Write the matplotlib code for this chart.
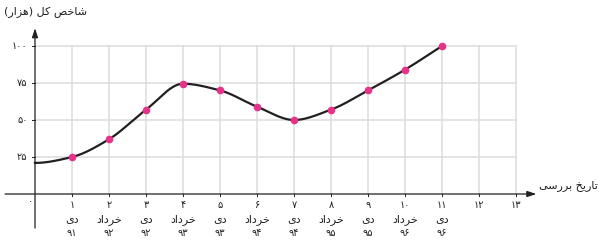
import numpy as np
import matplotlib
matplotlib.use("Agg")
import matplotlib.pyplot as plt

plt.rcParams['font.family'] = ['DejaVu Sans']

# data
periods = [1, 2, 3, 4, 5, 6, 7, 8, 9, 10, 11]
index_k = [25, 37, 57, 74.5, 70, 59, 50, 57, 70, 84, 100]
curve_start = 21  # value of the curve at x=0 (no marker)

# Persian digits and labels (Arabic presentation forms, visual order)
fa = str.maketrans("0123456789", "\u06f0\u06f1\u06f2\u06f3\u06f4\u06f5\u06f6\u06f7\u06f8\u06f9")
DEY = "\ufeef\ufea9"
KHORDAD = "\ufea9\ufe8d\ufea9\ufeae\ufea7"
months = [DEY, KHORDAD] * 5 + [DEY]
years = [91, 92, 92, 93, 93, 94, 94, 95, 95, 96, 96]
x_ticks = list(range(1, 14))
y_ticks = [25, 50, 75, 100]
y_title = "(\ufead\ufe8d\ufeb0\ufeeb) \ufede\ufedb \ufeba\ufea7\ufe8e\ufeb7"
x_title = "\ufef0\ufeb3\ufead\ufeae\ufe91 \ufea6\ufef3\ufead\ufe8e\ufe97"


def pchip(x, y, d0, xs):
    # monotone cubic hermite (Fritsch-Carlson), slope d0 at the start
    x = np.asarray(x, float)
    y = np.asarray(y, float)
    h = np.diff(x)
    delta = np.diff(y) / h
    d = np.zeros(len(x))
    for i in range(1, len(x) - 1):
        if delta[i - 1] * delta[i] > 0:
            w1 = 2 * h[i] + h[i - 1]
            w2 = h[i] + 2 * h[i - 1]
            d[i] = (w1 + w2) / (w1 / delta[i - 1] + w2 / delta[i])
    d[0] = d0
    d[-1] = delta[-1]
    k = np.clip(np.searchsorted(x, xs) - 1, 0, len(x) - 2)
    t = (xs - x[k]) / h[k]
    h00 = 2 * t ** 3 - 3 * t ** 2 + 1
    h10 = t ** 3 - 2 * t ** 2 + t
    h01 = -2 * t ** 3 + 3 * t ** 2
    h11 = t ** 3 - t ** 2
    return h00 * y[k] + h10 * h[k] * d[k] + h01 * y[k + 1] + h11 * h[k] * d[k + 1]


fig = plt.figure(figsize=(6.02, 2.41), dpi=100)
ax = fig.add_axes([0, 0, 1, 1])
# pixel mapping: x=0 at 35px, 37px per unit; y=0 at 194px, 1.48px per unit
ax.set_xlim(-35 / 37, 567 / 37)
ax.set_ylim(-47 / 1.48, 194 / 1.48)
ax.axis('off')

grid_c = '#dcdcdc'
for xt in x_ticks:
    ax.plot([xt, xt], [0, 100], color=grid_c, lw=1.1, zorder=1)
for yt in y_ticks:
    ax.plot([0, 13], [yt, yt], color=grid_c, lw=1.1, zorder=1)

# axes with arrows
ax.annotate('', xy=(13.55, 0), xytext=(-0.81, 0),
            arrowprops=dict(arrowstyle='-|>,head_length=0.6,head_width=0.2', color='#231f20', lw=0.9,
                            mutation_scale=9, shrinkA=0, shrinkB=0), zorder=3)
ax.annotate('', xy=(0, 112), xytext=(0, -23),
            arrowprops=dict(arrowstyle='-|>,head_length=0.6,head_width=0.2', color='#231f20', lw=0.9,
                            mutation_scale=9, shrinkA=0, shrinkB=0), zorder=3)
for xt in x_ticks:
    ax.plot([xt, xt], [0, -1.5], color='#231f20', lw=0.7, zorder=3)
for yt in y_ticks:
    ax.plot([-0.08, 0], [yt, yt], color='#231f20', lw=0.7, zorder=3)

# smooth curve
kx = [0] + periods
ky = [curve_start] + index_k
xs = np.linspace(0, periods[-1], 400)
ax.plot(xs, pchip(kx, ky, 0.0, xs), color='#231f20', lw=1.6, zorder=4)
ax.plot(periods, index_k, 'o', color='#e6338a', ms=4.5, mec='#e6338a', zorder=5)

# tick labels
fs = 7
for xt in x_ticks:
    ax.text(xt, -7.5, str(xt).translate(fa), ha='center', va='center', fontsize=fs, color='#231f20')
for p, m, yr in zip(periods, months, years):
    ax.text(p, -17, m, ha='center', va='center', fontsize=fs + 1, color='#231f20')
    ax.text(p, -26.5, str(yr).translate(fa), ha='center', va='center', fontsize=fs, color='#231f20')
for yt in y_ticks:
    ax.text(-0.2, yt, str(yt).translate(fa), ha='right', va='center', fontsize=fs, color='#231f20')
ax.text(-0.13, -5, "\u06f0", ha='center', va='center', fontsize=fs, color='#231f20')

ax.text(-0.85, 123, y_title, ha='left', va='center', fontsize=8, color='#231f20')
ax.text(15.2, 5.5, x_title, ha='right', va='center', fontsize=8, color='#231f20')

fig.savefig('out.png', dpi=100)
